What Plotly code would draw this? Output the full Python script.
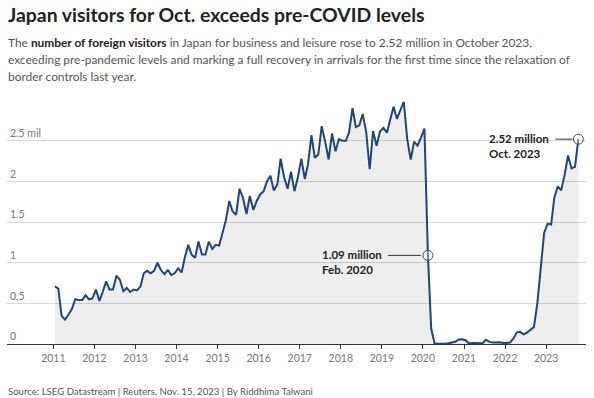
import pandas as pd
import plotly.graph_objects as go

# Monthly foreign visitor arrivals to Japan, millions (Jan 2011 - Oct 2023)
v2011 = [0.71, 0.68, 0.35, 0.30, 0.36, 0.43, 0.55, 0.54, 0.54, 0.60, 0.55, 0.56]
v2012 = [0.67, 0.53, 0.64, 0.77, 0.67, 0.67, 0.84, 0.79, 0.65, 0.69, 0.64, 0.67]
v2013 = [0.66, 0.71, 0.87, 0.90, 0.87, 0.90, 1.00, 0.91, 0.86, 0.91, 0.85, 0.87]
v2014 = [0.93, 0.88, 1.06, 1.22, 1.10, 1.06, 1.26, 1.10, 1.10, 1.26, 1.17, 1.22]
v2015 = [1.21, 1.39, 1.52, 1.76, 1.63, 1.59, 1.91, 1.80, 1.60, 1.82, 1.65, 1.76]
v2016 = [1.84, 1.88, 2.00, 2.07, 1.89, 1.96, 2.28, 2.05, 1.91, 2.12, 1.88, 2.05]
v2017 = [2.28, 2.03, 2.21, 2.57, 2.29, 2.33, 2.68, 2.49, 2.27, 2.59, 2.37, 2.52]
v2018 = [2.50, 2.50, 2.60, 2.90, 2.67, 2.69, 2.83, 2.61, 2.15, 2.62, 2.44, 2.61]
v2019 = [2.66, 2.60, 2.76, 2.92, 2.77, 2.87, 2.98, 2.52, 2.27, 2.49, 2.44, 2.54]
v2020 = [2.65, 1.09, 0.19, 0.003, 0.002, 0.003, 0.004, 0.009, 0.014, 0.028, 0.056, 0.059]
v2021 = [0.046, 0.007, 0.012, 0.011, 0.010, 0.009, 0.052, 0.026, 0.018, 0.022, 0.021, 0.012]
v2022 = [0.018, 0.017, 0.066, 0.14, 0.15, 0.12, 0.14, 0.17, 0.21, 0.50, 0.93, 1.37]
v2023 = [1.48, 1.47, 1.80, 1.94, 1.89, 2.08, 2.32, 2.16, 2.18, 2.52]

visitors = v2011 + v2012 + v2013 + v2014 + v2015 + v2016 + v2017 + v2018 + v2019 + v2020 + v2021 + v2022 + v2023
dates = pd.date_range("2011-01-01", periods=len(visitors), freq="MS") + pd.Timedelta(days=14)

year_ticks = list(range(2011, 2024))
y_ticks = [0, 0.5, 1, 1.5, 2, 2.5]
y_tick_text = ["0", "0.5", "1", "1.5", "2", "2.5 mil"]

highlight_idx = [109, len(visitors) - 1]  # Feb 2020, Oct 2023
highlight_names = ["Feb. 2020", "Oct. 2023"]

title = "Japan visitors for Oct. exceeds pre-COVID levels"
subtitle_lines = [
    "The <b style='color:#222'>number of foreign visitors</b> in Japan for business and leisure rose to 2.52 million in October 2023,",
    "exceeding pre-pandemic levels and marking a full recovery in arrivals for the first time since the relaxation of",
    "border controls last year.",
]
source = "Source: LSEG Datastream | Reuters, Nov. 15, 2023 | By Riddhima Talwani"

FONT = "Lato"
fig = go.Figure()
fig.add_trace(go.Scatter(
    x=dates, y=visitors, mode="lines",
    line=dict(color="#1e4677", width=2),
    fill="tozeroy", fillcolor="rgba(0,0,0,0.065)",
    hoverinfo="skip", showlegend=False,
))
fig.add_trace(go.Scatter(
    x=[dates[i] for i in highlight_idx], y=[visitors[i] for i in highlight_idx],
    mode="markers",
    marker=dict(symbol="circle", size=10, color="rgba(255,255,255,0.35)",
                line=dict(color="#444", width=1)),
    hoverinfo="skip", showlegend=False,
))

shapes = []
annotations = []
label_cfg = [(-44, -40, -7), (-27, -23, -6)]
for (i, name, (xs, lx0, lx1)) in zip(highlight_idx, highlight_names, label_cfg):
    shapes.append(dict(type="line", xref="x", yref="y", xsizemode="pixel",
                       xanchor=dates[i], x0=lx0, x1=lx1,
                       y0=visitors[i], y1=visitors[i],
                       line=dict(color="#333", width=1)))
    annotations.append(dict(
        xref="x", yref="y", x=dates[i], y=visitors[i],
        text=f"<b>{visitors[i]:.2f} million</b><br><b>{name}</b>",
        showarrow=False, xanchor="right", yanchor="top", align="left",
        xshift=xs, yshift=9, font=dict(family=FONT, size=11.5, color="#222")))

annotations.append(dict(xref="paper", yref="paper", x=0, y=1, xanchor="left", yanchor="middle",
                        xshift=-1, yshift=92 - 14, text=f"<b>{title}</b>", showarrow=False,
                        font=dict(family=FONT, size=19.4, color="#222")))
for k, line in enumerate(subtitle_lines):
    annotations.append(dict(xref="paper", yref="paper", x=0, y=1, xanchor="left", yanchor="middle",
                            xshift=-1, yshift=92 - (42 + 17 * k), text=line, showarrow=False,
                            font=dict(family=FONT, size=11.9, color="#555")))
annotations.append(dict(xref="paper", yref="paper", x=0, y=0, xanchor="left", yanchor="middle",
                        xshift=-1, yshift=-(391 - 344), text=source, showarrow=False,
                        font=dict(family=FONT, size=9.6, color="#555")))

fig.update_layout(
    width=594, height=398,
    margin=dict(l=7, r=8, t=92, b=54),
    paper_bgcolor="white", plot_bgcolor="white",
    shapes=shapes, annotations=annotations,
    font=dict(family=FONT, color="#777"),
    xaxis=dict(
        type="date", range=["2009-11-15", "2023-12-22"],
        tickvals=[f"{y}-01-01" for y in year_ticks], ticktext=[str(y) for y in year_ticks],
        showgrid=False, showline=True, linecolor="#333", linewidth=1,
        ticks="outside", ticklen=4, tickcolor="#333", tickwidth=1,
        tickfont=dict(family=FONT, size=10.5, color="#777"), zeroline=False,
    ),
    yaxis=dict(
        range=[0, 3.1], tickvals=y_ticks, ticktext=y_tick_text,
        showgrid=True, gridcolor="#d6d6d6", gridwidth=1,
        ticks="", ticklabelposition="inside top", zeroline=False, showline=False,
        tickfont=dict(family=FONT, size=10.5, color="#777"),
    ),
)

fig.write_html("out.html", config={"displayModeBar": False},
               post_script="document.body.style.margin='0';document.body.style.overflow='hidden';")
